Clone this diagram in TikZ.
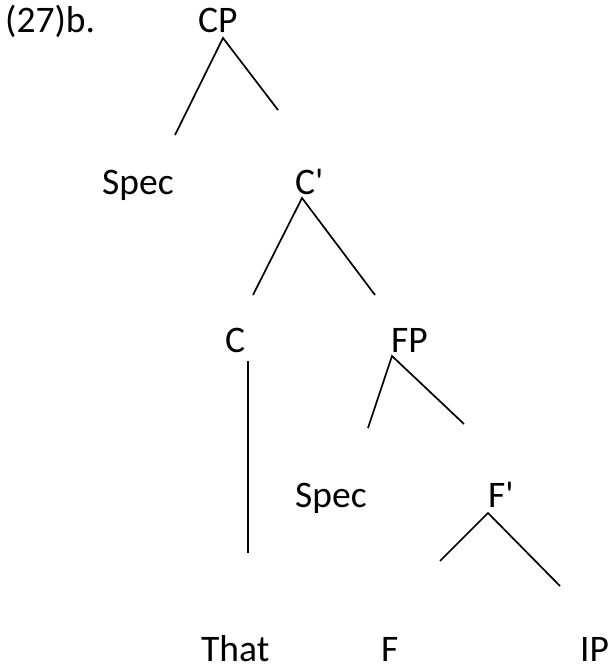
\documentclass[tikz,border=0pt]{standalone}
\usepackage{fontspec}
\setmainfont{Carlito}
\begin{document}
\begin{tikzpicture}[x=1pt,y=-1pt,
  lbl/.style={anchor=base west,inner sep=0pt,font=\fontsize{37.5}{44}\selectfont},
  edge/.style={line width=1.7pt}]
\useasboundingbox (0,0) rectangle (612,668);
\node[lbl] (ex) at (5,33) {(27)b.};
\node[lbl] (cp) at (198,33) {CP};
\node[lbl] (spec1) at (102,194) {Spec};
\node[lbl] (cbar) at (295,194) {C\textquotesingle};
\node[lbl] (c) at (225,352) {C};
\node[lbl] (fp) at (391,352) {FP};
\node[lbl] (spec2) at (295,507) {Spec};
\node[lbl] (fbar) at (488,507) {F\textquotesingle};
\node[lbl] (that) at (201,661) {That};
\node[lbl] (f) at (381,661) {F};
\node[lbl] (ip) at (580,661) {IP};
% line end points
\coordinate (cpA) at (223,38);
\coordinate (cpL) at (175,135);
\coordinate (cpR) at (278,110);
\coordinate (cbA) at (302,198);
\coordinate (cbL) at (253,295);
\coordinate (cbR) at (375,295);
\coordinate (cT) at (248,361);
\coordinate (cB) at (248,553);
\coordinate (fpA) at (392,356);
\coordinate (fpL) at (368,428);
\coordinate (fpR) at (464,424);
\coordinate (fbA) at (488,513);
\coordinate (fbL) at (440,561);
\coordinate (fbR) at (560,586);
\draw[edge] (cpL) -- (cpA) -- (cpR);
\draw[edge] (cbL) -- (cbA) -- (cbR);
\draw[edge] (cT) -- (cB);
\draw[edge] (fpL) -- (fpA) -- (fpR);
\draw[edge] (fbL) -- (fbA) -- (fbR);
\end{tikzpicture}
\end{document}
